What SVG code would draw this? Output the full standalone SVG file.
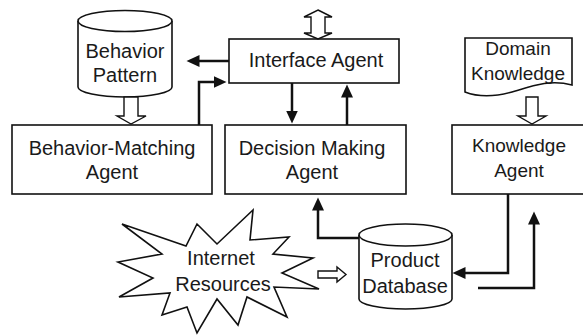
<svg xmlns="http://www.w3.org/2000/svg" width="583" height="335" viewBox="0 0 583 335">
<defs>
<style>
.box{fill:#fff;stroke:#111;stroke-width:1.6}
.t{font-family:"Liberation Sans",Arial,sans-serif;font-size:20px;fill:#1a1a1a;text-anchor:middle}
.t19{font-size:19px}
.c{fill:none;stroke:#111;stroke-width:2.5}
.hollow{fill:#fff;stroke:#111;stroke-width:1.4}
</style>
<marker id="ah" markerUnits="userSpaceOnUse" markerWidth="14" markerHeight="12" refX="0.5" refY="6" orient="auto">
<path d="M0,0 L13,6 L0,12 z" fill="#111"/>
</marker>
</defs>
<rect width="583" height="335" fill="#fff"/>

<g id="behavior-pattern">
<path class="box" d="M78,21 V87 A47,10 0 0 0 172,87 V21"/>
<ellipse class="box" cx="125" cy="21" rx="47" ry="10.5"/>
<text class="t" x="125" y="58">Behavior</text>
<text class="t" x="125" y="82">Pattern</text>
</g>

<g id="interface-agent">
<rect class="box" x="229" y="39" width="170" height="44"/>
<text class="t" x="316" y="67">Interface Agent</text>
</g>

<g id="user-io">
<polygon class="hollow" points="318,10 332,17 325,17 325,33 332,33 318,39 304,33 311,33 311,17 304,17"/>
</g>

<g id="domain-knowledge">
<path class="box" d="M465,38 H572 V85 C550,79 532,86 512,92 C494,97 478,97 465,92 Z"/>
<text class="t t19" x="518" y="55">Domain</text>
<text class="t t19" x="518" y="80">Knowledge</text>
</g>

<g id="behavior-matching-agent">
<rect class="box" x="12" y="125" width="200" height="69"/>
<text class="t" x="112" y="155">Behavior-Matching</text>
<text class="t" x="112" y="179">Agent</text>
</g>

<g id="decision-making-agent">
<rect class="box" x="225" y="125" width="181" height="69"/>
<text class="t" x="312" y="155">Decision Making</text>
<text class="t" x="312" y="179">Agent</text>
</g>

<g id="knowledge-agent">
<rect class="box" x="452" y="125" width="140" height="69"/>
<text class="t t19" x="519" y="152">Knowledge</text>
<text class="t t19" x="519" y="177">Agent</text>
</g>

<g id="internet-resources">
<polygon class="box" points="122,224 186,246 197,224 217,244 253,210 250,240 289,237 273,254 313,258 282,273 319,289 274,287 287,317 247,297 238,325 217,299 197,333 187,307 162,315 170,293 119,297 153,278 118,262 162,254"/>
<text class="t" x="221" y="265">Internet</text>
<text class="t" x="223" y="291">Resources</text>
</g>

<g id="product-database">
<path class="box" d="M359,235 V299 A46.5,10 0 0 0 452,299 V235"/>
<ellipse class="box" cx="405.5" cy="235" rx="46.5" ry="11"/>
<text class="t" x="405" y="267">Product</text>
<text class="t" x="405" y="293">Database</text>
</g>

<g id="connectors">
<polygon class="hollow" points="124,97 138,97 138,116 146,116 131,124 117,116 124,116"/>
<polygon class="hollow" points="526,97 538,97 538,116 546,116 532,124 518,116 526,116"/>
<polygon class="hollow" points="318,271 337,271 337,267 346,274.5 337,282 337,278 318,278"/>
<path class="c" marker-end="url(#ah)" d="M229,61 H199"/>
<path class="c" marker-end="url(#ah)" d="M199,125 V82 H214"/>
<path class="c" marker-end="url(#ah)" d="M292,83 V111"/>
<path class="c" marker-end="url(#ah)" d="M347,125 V97"/>
<path class="c" marker-end="url(#ah)" d="M359,238 H318 V210"/>
<path class="c" marker-end="url(#ah)" d="M508,194 V273 H465"/>
<path class="c" marker-end="url(#ah)" d="M478,288 H534 V224"/>
</g>
</svg>
